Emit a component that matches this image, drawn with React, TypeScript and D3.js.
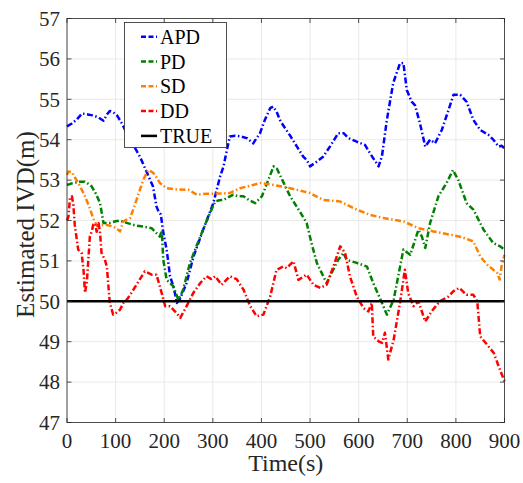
import React from "react";
import * as d3 from "d3";

const apdT = [0,10,20,31,45,54,65,75,82,88,95,103,113,123,135,150,164,177,184,189,193,198,205,212,218,222,226,232,239,246,260,280,301,315,322,329,335,346,358,370,383,397,407,418,424,431,438,445,459,473,486,493,500,513,527,542,558,569,579,596,613,623,641,648,658,671,685,692,699,709,716,726,737,747,757,771,785,795,809,822,836,850,867,877,888,894,900];
const apdV = [54.33,54.4,54.5,54.65,54.62,54.6,54.55,54.47,54.62,54.71,54.68,54.6,54.4,54.16,53.9,53.58,53.2,52.84,52.35,52.2,52.15,51.7,51.28,50.62,50.4,50.2,49.96,50.05,50.25,50.45,51.1,51.77,52.43,53.09,53.34,53.75,54.08,54.1,54.08,54.04,53.91,54.16,54.49,54.78,54.82,54.7,54.49,54.35,54.1,53.83,53.58,53.5,53.34,53.45,53.58,53.85,54.16,54.16,54.04,53.95,53.87,53.67,53.34,53.6,54.49,55.4,55.89,55.9,55.23,54.94,54.85,54.41,53.83,54.0,53.91,54.24,54.74,55.11,55.11,54.94,54.49,54.24,54.12,54.0,53.83,53.85,53.79];

const pdT = [0,10,27,36,45,51,60,68,75,88,100,109,116,123,140,157,174,184,191,195,198,205,212,219,224,229,234,239,253,274,294,305,313,322,342,352,363,375,387,401,414,425,432,445,459,479,493,503,514,534,558,569,575,596,617,630,648,658,672,692,706,723,730,737,747,764,781,794,805,822,836,857,877,891,900];
const pdV = [52.88,52.92,52.96,52.96,52.9,52.84,52.65,52.43,51.94,51.94,51.98,52.0,51.97,51.94,51.88,51.85,51.81,51.69,51.6,51.75,51.03,50.53,50.45,50.37,50.2,50.04,50.15,50.29,50.95,51.6,52.18,52.47,52.5,52.51,52.64,52.6,52.6,52.5,52.43,52.6,53.0,53.34,53.28,52.95,52.6,52.22,51.94,51.44,50.95,50.45,51.03,51.2,51.03,50.95,50.86,50.45,49.96,49.67,50.04,51.28,51.15,51.77,51.6,51.32,51.94,52.6,52.93,53.25,53.0,52.43,52.27,51.77,51.44,51.36,51.28];

const sdT = [0,3,10,15,27,37,47,54,61,68,82,95,104,109,116,130,143,157,167,175,181,191,205,226,250,267,287,322,335,356,383,397,425,459,500,527,562,596,623,651,692,723,754,788,812,836,850,864,885,890,894,900];
const sdV = [53.13,53.21,53.2,53.1,52.84,52.6,52.3,52.05,51.88,51.89,51.89,51.85,51.78,51.73,51.98,52.06,52.51,53.01,53.25,53.2,53.13,52.93,52.8,52.77,52.76,52.64,52.66,52.67,52.68,52.8,52.88,52.93,52.88,52.8,52.68,52.51,52.47,52.27,52.14,52.06,51.98,51.81,51.73,51.65,51.59,51.48,51.11,50.91,50.7,50.54,50.87,51.15];

const ddT = [0,3,6,10,13,16,23,30,34,37,41,47,51,54,58,61,65,68,71,75,78,82,88,95,100,109,116,123,130,143,160,174,184,191,202,212,219,226,233,246,260,274,287,297,305,318,335,349,363,377,390,404,418,431,445,452,466,476,493,507,521,534,548,562,572,582,596,610,620,627,630,641,648,654,661,672,685,695,702,713,723,737,750,767,785,795,807,822,836,844,850,864,878,888,900];
const ddV = [52.0,52.1,52.55,52.6,52.4,51.89,51.28,51.2,50.78,50.21,50.5,51.6,51.73,51.9,51.93,51.72,51.93,51.69,51.2,51.1,51.03,50.86,49.96,49.67,49.7,49.79,49.96,50.04,50.16,50.41,50.74,50.66,50.66,50.37,49.88,49.88,49.79,49.7,49.59,49.88,50.21,50.45,50.62,50.55,50.62,50.41,50.62,50.55,50.29,49.88,49.63,49.67,50.12,50.78,50.86,50.82,50.99,50.53,50.66,50.41,50.33,50.41,50.86,51.36,51.2,50.62,50.12,49.83,49.75,49.96,49.13,49.01,48.97,49.22,48.56,49.05,49.96,50.78,50.2,49.88,50.0,49.5,49.75,50.0,50.12,50.25,50.33,50.16,50.16,50.0,49.13,48.93,48.72,48.39,48.02];

const trueT = [0, 900];
const trueV = [50, 50];

const xTicks = [0,100,200,300,400,500,600,700,800,900];
const yTicks = [47,48,49,50,51,52,53,54,55,56,57];

const seriesNames = ["APD", "PD", "SD", "DD", "TRUE"];
const seriesColors = ["#0000ff", "#008000", "#ff8000", "#ff0000", "#000000"];

const W = 523, H = 483;
const L = 67, R = 504.5, T = 18.5, B = 422.5;
const FONT = "'Liberation Serif', 'Times New Roman', serif";
const DASH = "6,2.5,1.5,2.5";

export default function App() {
  const x = d3.scaleLinear().domain([0, 900]).range([L, R]);
  const y = d3.scaleLinear().domain([47, 57]).range([B, T]);
  const line = d3.line<[number, number]>().x(d => x(d[0])).y(d => y(d[1]));
  const mk = (ts: number[], vs: number[]) => ts.map((t, i) => [t, vs[i]] as [number, number]);
  const series = [mk(apdT, apdV), mk(pdT, pdV), mk(sdT, sdV), mk(ddT, ddV), mk(trueT, trueV)];
  const axisColor = "#262626";
  const legX = 124.5, legY = 22.5, legW = 102, legH = 125;
  return (
    <svg width={W} height={H} style={{ position: "absolute", left: 0, top: 0, background: "#fff" }}>
      <rect x={0} y={0} width={W} height={H} fill="#fff" />
      <rect x={L} y={T} width={R - L} height={B - T} fill="#fff" />
      {xTicks.map(t => (
        <line key={"gx" + t} x1={x(t)} x2={x(t)} y1={T} y2={B} stroke="#e3e3e3" strokeWidth={0.8} />
      ))}
      {yTicks.map(t => (
        <line key={"gy" + t} x1={L} x2={R} y1={y(t)} y2={y(t)} stroke="#e3e3e3" strokeWidth={0.8} />
      ))}
      {series.map((d, i) => (
        <path key={seriesNames[i]} d={line(d) || ""} fill="none" stroke={seriesColors[i]}
          strokeWidth={i === 4 ? 2.6 : 2.5} strokeDasharray={i === 4 ? undefined : DASH}
          strokeLinejoin="round" />
      ))}
      <rect x={L} y={T} width={R - L} height={B - T} fill="none" stroke={axisColor} strokeWidth={0.8} />
      {xTicks.map(t => (
        <g key={"tx" + t}>
          <line x1={x(t)} x2={x(t)} y1={B} y2={B - 4.5} stroke={axisColor} strokeWidth={0.8} />
          <line x1={x(t)} x2={x(t)} y1={T} y2={T + 4.5} stroke={axisColor} strokeWidth={0.8} />
          <text x={x(t)} y={B + 25} textAnchor="middle" fontFamily={FONT} fontSize={21} fill={axisColor}>{t}</text>
        </g>
      ))}
      {yTicks.map(t => (
        <g key={"ty" + t}>
          <line x1={L} x2={L + 4.5} y1={y(t)} y2={y(t)} stroke={axisColor} strokeWidth={0.8} />
          <line x1={R} x2={R - 4.5} y1={y(t)} y2={y(t)} stroke={axisColor} strokeWidth={0.8} />
          <text x={L - 7} y={y(t)} dy="0.35em" textAnchor="end" fontFamily={FONT} fontSize={21} fill={axisColor}>{t}</text>
        </g>
      ))}
      <text x={(L + R) / 2} y={471} textAnchor="middle" fontFamily={FONT} fontSize={24} fill={axisColor}>Time(s)</text>
      <text transform={`translate(25,${(T + B) / 2 + 4}) rotate(-90)`} textAnchor="middle" dy="0.35em"
        fontFamily={FONT} fontSize={25} fill={axisColor}>Estimated IVD(m)</text>
      <rect x={legX} y={legY} width={legW} height={legH} fill="#fff" stroke={axisColor} strokeWidth={0.8} />
      {seriesNames.map((n, i) => {
        const yy = 36.7 + i * 24.8;
        return (
          <g key={"lg" + n}>
            <line x1={141} x2={157} y1={yy} y2={yy} stroke={seriesColors[i]} strokeWidth={2.5}
              strokeDasharray={i === 4 ? undefined : "5,2.5"} />
            <text x={160} y={yy} dy="0.35em" fontFamily={FONT} fontSize={20} fill="#000">{n}</text>
          </g>
        );
      })}
    </svg>
  );
}
